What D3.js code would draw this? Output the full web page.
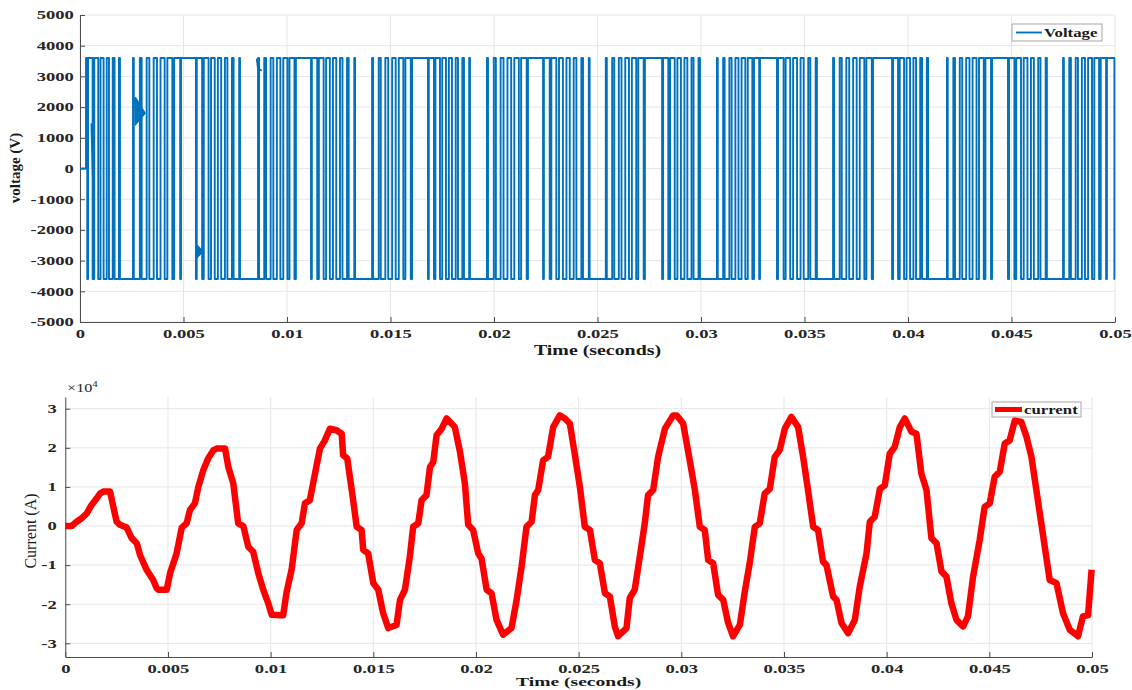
<!DOCTYPE html>
<html>
<head>
<meta charset="utf-8">
<script src="https://cdn.jsdelivr.net/npm/d3@7"></script>
<style>
body { margin: 0; background: #fff; }
svg { display: block; }
text { font-family: "Liberation Serif", "Times New Roman", serif; }
</style>
</head>
<body>
<svg id="chart" width="1132" height="690"></svg>
<script>
// ---- data ----
var timeTicks = [0, 0.005, 0.01, 0.015, 0.02, 0.025, 0.03, 0.035, 0.04, 0.045, 0.05]
var voltTicks = [-5000, -4000, -3000, -2000, -1000, 0, 1000, 2000, 3000, 4000, 5000]
var currTicks = [-3, -2, -1, 0, 1, 2, 3]   // x 10^4

// inverter output: level before the first switch is 0, then +3600 and it flips at every switch time (ms)
var voltLevel = 3600
var voltSwitchMs = [
  0.29,
  0.35, 0.39, 0.61, 0.69, 0.88, 0.99, 1.14, 1.29, 1.40, 1.58, 1.67, 1.88, 1.93,
  2.56, 2.60, 2.89, 2.98, 3.22, 3.35, 3.56, 3.72, 3.89, 4.09, 4.22, 4.46, 4.55, 4.84, 4.88,
  5.60, 5.64, 5.90, 5.98, 6.21, 6.33, 6.51, 6.66, 6.82, 7.00, 7.12, 7.34, 7.42, 7.69, 7.73,
  8.60, 8.65, 8.90, 8.99, 9.21, 9.34, 9.51, 9.68, 9.82, 10.02, 10.12, 10.36, 10.43,
  11.16, 11.20, 11.46, 11.54, 11.77, 11.89, 12.07, 12.22, 12.38, 12.56, 12.68, 12.90, 12.98, 13.25, 13.29,
  14.11, 14.16, 14.43, 14.53, 14.75, 14.89, 15.08, 15.25, 15.40, 15.62, 15.72, 15.98, 16.04,
  16.81, 16.85, 17.10, 17.17, 17.39, 17.50, 17.68, 17.82, 17.97, 18.15, 18.26, 18.47, 18.55, 18.80, 18.84,
  19.66, 19.71, 19.99, 20.09, 20.32, 20.46, 20.65, 20.83, 20.98, 21.20, 21.31, 21.58, 21.64,
  22.37, 22.41, 22.69, 22.77, 23.01, 23.14, 23.33, 23.50, 23.66, 23.85, 23.98, 24.22, 24.30, 24.58, 24.62,
  25.40, 25.45, 25.71, 25.81, 26.03, 26.16, 26.34, 26.52, 26.66, 26.87, 26.97, 27.23, 27.29,
  28.12, 28.17, 28.42, 28.51, 28.73, 28.86, 29.03, 29.20, 29.34, 29.54, 29.64, 29.88, 29.95,
  30.77, 30.81, 31.07, 31.14, 31.37, 31.48, 31.66, 31.81, 31.96, 32.14, 32.26, 32.48, 32.56, 32.81, 32.85,
  33.67, 33.72, 33.99, 34.09, 34.31, 34.45, 34.64, 34.81, 34.96, 35.18, 35.28, 35.54, 35.60,
  36.38, 36.43, 36.70, 36.80, 37.02, 37.16, 37.35, 37.52, 37.67, 37.89, 37.99, 38.25, 38.31,
  39.23, 39.28, 39.52, 39.60, 39.81, 39.93, 40.10, 40.26, 40.39, 40.59, 40.68, 40.91, 40.97,
  41.88, 41.92, 42.19, 42.27, 42.50, 42.62, 42.81, 42.97, 43.12, 43.31, 43.43, 43.66, 43.74, 44.01, 44.06,
  44.83, 44.88, 45.14, 45.23, 45.46, 45.59, 45.77, 45.94, 46.08, 46.29, 46.40, 46.65, 46.71,
  47.49, 47.53, 47.79, 47.87, 48.10, 48.21, 48.40, 48.55, 48.70, 48.89, 49.00, 49.23, 49.31, 49.57, 49.61,
  49.97
]
// small glitches on the voltage trace, [ms, V]
var voltGlitches = [
  [[0.55, 1470], [0.66, -1140]],
  [[2.66, 2320], [3.13, 1800], [2.70, 1460], [2.66, 2320]],
  [[5.64, -2500], [5.92, -2700], [5.64, -2900], [5.64, -2500]],
  [[8.54, 3580], [8.60, 3250], [8.78, 3190]]
]

// load current, ms and amps x 10^4
var currentMs = [
  0, 0.31, 0.55, 0.80, 1.04, 1.28, 1.53, 1.69, 1.85, 2.18, 2.34, 2.50, 2.66, 2.99, 3.23, 3.48, 3.64, 3.96,
  4.28, 4.45, 4.53, 4.94, 5.10, 5.42, 5.67, 5.91, 6.07, 6.31, 6.48, 6.72, 6.96, 7.21, 7.37, 7.78, 7.94,
  8.18, 8.42, 8.67, 8.91, 9.15, 9.40, 9.64, 9.88, 10.05, 10.45, 10.61, 10.78, 11.02, 11.27, 11.51, 11.67,
  11.91, 12.16, 12.40, 12.64, 12.89, 13.21, 13.46, 13.53, 13.73, 14.02, 14.19, 14.43, 14.51, 14.75, 15.00,
  15.24, 15.48, 15.73, 16.13, 16.30, 16.54, 16.78, 16.94, 17.19, 17.35, 17.59, 17.76, 17.92, 18.08, 18.33,
  18.57, 18.81, 18.97, 19.22, 19.46, 19.62, 19.86, 20.11, 20.27, 20.52, 20.76, 21.00, 21.32, 21.73, 21.98,
  22.22, 22.46, 22.71, 22.87, 23.03, 23.27, 23.51, 23.76, 24.08, 24.33, 24.57, 24.82, 25.06, 25.30, 25.55,
  25.79, 26.03, 26.28, 26.52, 26.76, 26.92, 27.33, 27.49, 27.73, 27.98, 28.22, 28.38, 28.63, 28.87, 29.20,
  29.60, 29.77, 30.09, 30.41, 30.66, 30.90, 31.14, 31.31, 31.55, 31.79, 32.04, 32.28, 32.52, 32.85, 33.09,
  33.33, 33.58, 33.82, 34.06, 34.31, 34.55, 34.79, 35.04, 35.36, 35.69, 35.93, 36.17, 36.42, 36.66, 36.90,
  37.07, 37.39, 37.56, 37.80, 38.12, 38.45, 38.69, 39.02, 39.18, 39.42, 39.67, 39.91, 40.15, 40.39, 40.64,
  40.88, 41.21, 41.45, 41.69, 41.94, 42.18, 42.43, 42.67, 42.91, 43.15, 43.40, 43.72, 43.96, 44.21, 44.53,
  44.77, 45.02, 45.26, 45.51, 45.75, 45.99, 46.24, 46.56, 46.81, 47.05, 47.29, 47.53, 47.70, 47.94, 48.27,
  48.59, 48.91, 49.32, 49.56, 49.81, 49.98
]
var currentE4 = [
  0, 0, 0.11, 0.20, 0.32, 0.54, 0.71, 0.83, 0.88, 0.88, 0.49, 0.11, 0.03, -0.04, -0.31, -0.44, -0.74, -1.12,
  -1.38, -1.59, -1.63, -1.63, -1.21, -0.70, -0.04, 0.07, 0.41, 0.58, 1.00, 1.43, 1.73, 1.94, 1.98, 1.98, 1.51,
  1.09, 0.07, 0.00, -0.53, -0.66, -1.21, -1.63, -1.97, -2.27, -2.28, -2.28, -1.68, -1.12, -0.10, 0.07, 0.58,
  0.66, 1.34, 1.98, 2.19, 2.49, 2.45, 2.36, 1.81, 1.73, 0.66, -0.02, -0.10, -0.61, -0.70, -1.46,
  -1.63, -2.23, -2.61, -2.53, -1.89, -1.63, -0.78, -0.02, 0.07, 0.66, 0.79, 1.51, 1.64, 2.32, 2.49,
  2.75, 2.62, 2.53, 1.90, 1.09, 0.03, -0.10, -0.70, -0.83, -1.63, -1.72, -2.40, -2.78, -2.61, -1.89,
  -1.04, -0.02, 0.11, 0.79, 0.92, 1.68, 1.77, 2.53, 2.83, 2.75, 2.62, 1.81, 1.00, -0.02, -0.10,
  -0.87, -0.95, -1.72, -1.80, -2.57, -2.82, -2.61, -1.84, -1.63, -0.78, 0.07, 0.79, 0.92, 1.77, 2.49,
  2.83, 2.83, 2.62, 1.68, 0.92, -0.02, -0.10, -0.87, -0.95, -1.76, -1.89, -2.48, -2.82, -2.53, -1.68,
  -0.95, -0.02, 0.07, 0.83, 0.95, 1.77, 1.94, 2.49, 2.79, 2.53, 1.77, 0.92, -0.02, -0.10, -0.91,
  -1.00, -1.80, -1.89, -2.48, -2.74, -2.40, -1.55, -0.70, 0.11, 0.24, 0.95, 1.04, 1.85, 2.02, 2.53,
  2.75, 2.41, 2.36, 1.34, 0.92, -0.31, -0.44, -1.16, -1.29, -1.97, -2.40, -2.57, -2.31, -1.29, -0.36,
  0.49, 0.58, 1.26, 1.39, 2.11, 2.19, 2.70, 2.66, 2.28, 1.77, 0.92, 0.07, -0.53, -1.38, -1.46,
  -2.23, -2.65, -2.82, -2.31, -2.28, -1.12
]

var svg = d3.select("#chart")
var gridCol = "#e6e6e6", axisCol = "#4d4d4d"
var fmtTime = function (d) { return String(+d.toFixed(3)) }

// stretched text, the picture's type is wide
function wideText(g, x, y, str, size, sx, weight, anchor) {
    return g.append("text")
        .attr("transform", "translate(" + x + "," + y + ") scale(" + sx + ",1)")
        .attr("text-anchor", anchor || "middle")
        .style("font-size", size + "px")
        .style("font-weight", weight || "bold")
        .style("fill", "#1a1a1a")
        .text(str)
}

function panel(xs, ys, yTicks, yFmt, yPad) {
    var g = svg.append("g")
    var x0 = xs.range()[0], x1 = xs.range()[1], yb = ys.range()[0], yt = ys.range()[1]
    // grid
    g.selectAll(".gx").data(timeTicks).enter().append("line")
        .attr("x1", d => xs(d)).attr("x2", d => xs(d)).attr("y1", yt).attr("y2", yb)
        .style("stroke", gridCol).style("stroke-width", 1)
    g.selectAll(".gy").data(yTicks).enter().append("line")
        .attr("x1", x0).attr("x2", x1).attr("y1", d => ys(d)).attr("y2", d => ys(d))
        .style("stroke", gridCol).style("stroke-width", 1)

    var ax = g.append("g").attr("transform", "translate(0," + yb + ")")
        .call(d3.axisBottom(xs).tickValues(timeTicks).tickFormat(fmtTime).tickSizeInner(-5).tickSizeOuter(0).tickPadding(7))
    var ay = g.append("g").attr("transform", "translate(" + x0 + ",0)")
        .call(d3.axisLeft(ys).tickValues(yTicks).tickFormat(yFmt).tickSizeInner(-5).tickSizeOuter(0).tickPadding(yPad))
    ;[ax, ay].forEach(function (a) {
        a.select(".domain").style("stroke", axisCol)
        a.selectAll(".tick line").style("stroke", axisCol)
        a.selectAll(".tick text")
            .style("font-family", "'Liberation Serif', serif")
            .style("font-size", "12px").style("font-weight", "bold").style("fill", "#262626")
            .attr("transform", "scale(1.55,1)")
    })
    return g
}

// ---- top: voltage ----
var xV = d3.scaleLinear().domain([0, 0.05]).range([80, 1115])
var yV = d3.scaleLinear().domain([-5000, 5000]).range([322, 15])
var gV = panel(xV, yV, voltTicks, d => String(d), 4)

var vPts = [[0, 0]], lev = 0
voltSwitchMs.forEach(function (t, i) {
    var next = i === 0 ? voltLevel : -lev
    vPts.push([t, lev], [t, next])
    lev = next
})
vPts.push([50, lev])
var lineV = d3.line().x(d => xV(d[0] / 1000)).y(d => yV(d[1]))
gV.append("path").datum(vPts).attr("d", lineV)
    .style("fill", "none").style("stroke", "#0072BD").style("stroke-width", 1.9)
    .style("stroke-linejoin", "round")
gV.selectAll(".glitch").data(voltGlitches).enter().append("path")
    .attr("d", lineV)
    .style("fill", (d, i) => i === 0 || i === 3 ? "none" : "#0072BD")
    .style("stroke", "#0072BD").style("stroke-width", 1.9)

wideText(gV, 597.5, 355, "Time (seconds)", 14, 1.42)
gV.append("text").attr("transform", "translate(20,168) rotate(-90)")
    .attr("text-anchor", "middle").style("font-size", "15px").style("font-weight", "bold")
    .style("fill", "#1a1a1a").text("voltage (V)")

var lgV = gV.append("g")
lgV.append("rect").attr("x", 1012).attr("y", 24).attr("width", 90).attr("height", 17)
    .style("fill", "#fff").style("stroke", "#a6a6a6")
lgV.append("line").attr("x1", 1016).attr("x2", 1042).attr("y1", 32.5).attr("y2", 32.5)
    .style("stroke", "#0072BD").style("stroke-width", 1.9)
wideText(lgV, 1044, 37, "Voltage", 12, 1.4, "bold", "start")

// ---- bottom: current ----
var xI = d3.scaleLinear().domain([0, 0.05]).range([65.3, 1092])
var yI = d3.scaleLinear().domain([-3.35, 3.3]).range([657, 397])
var gI = panel(xI, yI, currTicks, d => String(d), 5.5)

var iPts = currentMs.map((t, i) => [t, currentE4[i]])
gI.append("path").datum(iPts)
    .attr("d", d3.line().x(d => xI(d[0] / 1000)).y(d => yI(d[1])))
    .style("fill", "none").style("stroke", "#ff0000").style("stroke-width", 6.5)
    .style("stroke-linejoin", "round")

wideText(gI, 578.6, 686, "Time (seconds)", 13.5, 1.45)
gI.append("text").attr("transform", "translate(36,531) rotate(-90)")
    .attr("text-anchor", "middle").style("font-size", "16px")
    .style("fill", "#1a1a1a").text("Current (A)")
var ex = gI.append("text").attr("transform", "translate(67,392) scale(1.35,1)")
    .style("font-size", "12px").style("fill", "#262626")
ex.append("tspan").text("\u00d710")
ex.append("tspan").attr("dy", -5).style("font-size", "8px").text("4")

var lgI = gI.append("g")
lgI.append("rect").attr("x", 992).attr("y", 402).attr("width", 89).attr("height", 15)
    .style("fill", "#fff").style("stroke", "#a6a6a6")
lgI.append("line").attr("x1", 995).attr("x2", 1022).attr("y1", 409.5).attr("y2", 409.5)
    .style("stroke", "#ff0000").style("stroke-width", 5)
wideText(lgI, 1024, 414, "current", 12, 1.4, "bold", "start")
</script>
</body>
</html>
